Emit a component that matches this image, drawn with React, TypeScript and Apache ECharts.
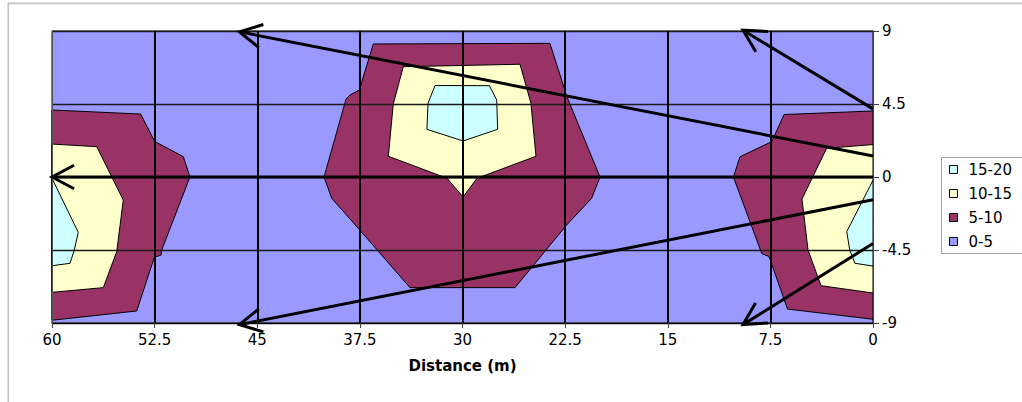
import React, { useEffect, useRef } from 'react';
import * as echarts from 'echarts';

// Axis ranges and tick steps (distance in m along x, offset along y)
const distanceRange = [0, 60];
const distanceStep = 7.5;
const offsetRange = [-9, 9];
const offsetStep = 4.5;

// Contour bands (legend order top to bottom)
const bandNames = ['15-20', '10-15', '5-10', '0-5'];
const bandColors = ['#CCFFFF', '#FFFFCC', '#993366', '#9999FF'];

// Band polygons, in data units [distance, offset]
const band0to5 = [
  [[0, -9], [60, -9], [60, 9], [0, 9]],
];

const band5to10 = [
  [[60, 4.13], [53.52, 3.88], [52.67, 2.48], [52.47, 2.18], [50.4, 1.25], [49.92, 0], [51.98, -4.5], [52.03, -4.81], [52.52, -4.95], [53.81, -8.26], [60, -8.83]],
  [[36.52, 8.2], [23.61, 8.24], [22.36, 4.93], [19.95, 0], [20.56, -1.31], [22.39, -2.96], [26.16, -6.82], [33.84, -6.82], [37.62, -3.16], [39.56, -1.31], [40.12, 0], [38.51, 4.81], [38.22, 5.05], [37.54, 5.36]],
  [[6.5, 3.85], [0, 4.07], [0, -8.77], [6.25, -8.14], [7.6, -4.9], [8.13, -4.72], [10.2, 0], [9.72, 1.25], [7.4, 2.18]],
];

const band10to15 = [
  [[60, 2.03], [56.73, 1.87], [54.79, -1.42], [55.27, -4.6], [56.25, -6.82], [60, -7.11]],
  [[34.33, 6.8], [25.8, 6.95], [25.0, 4.56], [24.63, 1.28], [28.94, -0.08], [29.96, -1.23], [31.13, -0.08], [35.42, 1.28], [35.06, 4.5]],
  [[3.39, 1.77], [0, 2.0], [0, -7.15], [3.8, -6.7], [4.75, -4.5], [5.19, -1.36]],
];

const band15to20 = [
  [[60, -0.08], [58.08, -3.41], [58.37, -4.5], [58.68, -5.32], [60, -5.47]],
  [[32.01, 5.64], [28.04, 5.63], [27.5, 4.75], [27.43, 2.94], [29.96, 2.22], [32.6, 2.94], [32.52, 4.54]],
  [[0, -0.2], [1.92, -3.37], [1.7, -4.5], [1.32, -5.32], [0, -5.49]],
];

const bandPolygons = [band15to20, band10to15, band5to10, band0to5];

// Survey path arrows: [fromDistance, fromOffset, toDistance, toOffset]
const arrows = [
  [0, 1.3, 46.3, 8.95],
  [0, 4.2, 9.5, 9.05],
  [0, 0, 60, 0],
  [0, -1.4, 46.3, -9.1],
  [0, -4.1, 9.5, -9.1],
];

const FONT = 'DejaVu Sans';

function bandSeries(name: string, color: string, polys: number[][][], z: number) {
  return {
    type: 'custom',
    name,
    coordinateSystem: 'cartesian2d',
    z,
    itemStyle: { color, borderColor: '#000', borderWidth: 1 },
    data: polys.map((p, i) => [p[0][0], p[0][1], i]),
    renderItem: (params: any, api: any) => {
      const poly = polys[api.value(2)];
      const points = poly.map((pt) => api.coord(pt));
      return {
        type: 'polygon',
        shape: { points },
        style: { fill: color, stroke: '#000', lineWidth: 1 },
      };
    },
  };
}

export default function App() {
  const ref = useRef<HTMLDivElement>(null);
  useEffect(() => {
    if (!ref.current) return;
    const chart = echarts.init(ref.current, undefined, { renderer: 'svg' });
    const series: any[] = [];
    // draw from lowest band to highest so nested bands sit on top
    for (let i = bandNames.length - 1; i >= 0; i--) {
      series.push(bandSeries(bandNames[i], bandColors[i], bandPolygons[i], 2 + (bandNames.length - i)));
    }
    series.push({
      type: 'custom',
      name: 'path',
      coordinateSystem: 'cartesian2d',
      z: 30,
      data: arrows,
      renderItem: (params: any, api: any) => {
        const a = api.coord([api.value(0), api.value(1)]);
        const b = api.coord([api.value(2), api.value(3)]);
        const ang = Math.atan2(a[1] - b[1], a[0] - b[0]);
        const L = 25;
        const h = (28 * Math.PI) / 180;
        const p1 = [b[0] + L * Math.cos(ang + h), b[1] + L * Math.sin(ang + h)];
        const p2 = [b[0] + L * Math.cos(ang - h), b[1] + L * Math.sin(ang - h)];
        return {
          type: 'group',
          children: [
            { type: 'line', shape: { x1: a[0], y1: a[1], x2: b[0], y2: b[1] }, style: { stroke: '#000', lineWidth: 3 } },
            { type: 'polyline', shape: { points: [p1, b, p2] }, style: { stroke: '#000', lineWidth: 3, fill: null } },
          ],
        };
      },
    });

    chart.setOption({
      animation: false,
      backgroundColor: '#fff',
      grid: { left: 52, top: 31, width: 821, height: 292, containLabel: false },
      graphic: [
        { type: 'rect', z: -10, shape: { x: 8.3, y: 3.4, width: 1100, height: 500 }, style: { fill: null, stroke: '#C4C4C4', lineWidth: 1.6 } },
        { type: 'rect', z: 0, shape: { x: 941.5, y: 157.5, width: 120, height: 96 }, style: { fill: '#fff', stroke: '#A0A0A0', lineWidth: 1 } },
      ],
      legend: {
        data: bandNames,
        orient: 'vertical',
        left: 949,
        top: 162,
        padding: 0,
        itemWidth: 8,
        itemHeight: 8,
        itemGap: 9,
        icon: 'rect',
        itemStyle: { borderColor: '#000', borderWidth: 1 },
        textStyle: { fontFamily: FONT, fontSize: 15, color: '#000', padding: [0, 0, 0, 6] },
      },
      xAxis: {
        type: 'value',
        min: distanceRange[0],
        max: distanceRange[1],
        interval: distanceStep,
        inverse: true,
        z: 10,
        name: 'Distance (m)',
        nameLocation: 'middle',
        nameGap: 35,
        nameTextStyle: { fontFamily: FONT, fontWeight: 'bold', fontSize: 15, color: '#000' },
        axisLine: { show: true, onZero: false, lineStyle: { color: '#000', width: 1 } },
        axisTick: { show: true, length: 5, lineStyle: { color: '#404040' } },
        axisLabel: { fontFamily: FONT, fontSize: 15, color: '#000', margin: 9 },
        splitLine: { show: true, showMinLine: false, showMaxLine: false, lineStyle: { color: '#000', width: 2 } },
      },
      yAxis: [
        {
          type: 'value',
          position: 'right',
          min: offsetRange[0],
          max: offsetRange[1],
          interval: offsetStep,
          z: 10,
          axisLine: { show: true, onZero: false, lineStyle: { color: '#404040', width: 1 } },
          axisTick: { show: true, length: 6, lineStyle: { color: '#404040' } },
          axisLabel: { fontFamily: FONT, fontSize: 15, color: '#000', margin: 9 },
          splitLine: { show: true, lineStyle: { color: '#1a1a1a', width: 1.3 } },
        },
        {
          type: 'value',
          position: 'left',
          min: offsetRange[0],
          max: offsetRange[1],
          interval: offsetStep,
          z: 10,
          axisLine: { show: true, onZero: false, lineStyle: { color: '#555', width: 1 } },
          axisTick: { show: false },
          axisLabel: { show: false },
          splitLine: { show: false },
        },
      ],
      series,
    });
    return () => chart.dispose();
  }, []);
  return (
    <div
      ref={ref}
      style={{ position: 'fixed', left: 0, top: 0, width: 1022, height: 402, background: '#fff' }}
    />
  );
}
